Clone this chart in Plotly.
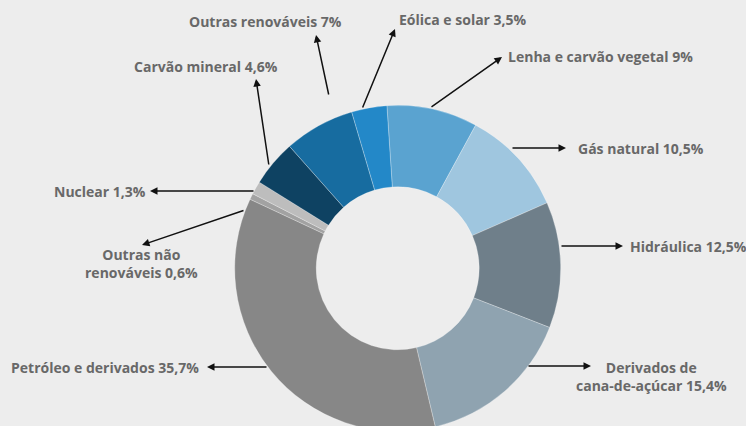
import plotly.graph_objects as go

# ---- data ----
sources = ["Lenha e carvão vegetal", "Gás natural", "Hidráulica",
           "Derivados de cana-de-açúcar", "Petróleo e derivados",
           "Outras não renováveis", "Nuclear", "Carvão mineral",
           "Outras renováveis", "Eólica e solar"]
shares = [9.0, 10.5, 12.5, 15.4, 35.7, 0.6, 1.3, 4.6, 7.0, 3.5]
label_texts = ["Lenha e carvão vegetal 9%", "Gás natural 10,5%", "Hidráulica 12,5%",
               "Derivados de<br>cana-de-açúcar 15,4%", "Petróleo e derivados 35,7%",
               "Outras não<br>renováveis 0,6%", "Nuclear 1,3%", "Carvão mineral 4,6%",
               "Outras renováveis 7%", "Eólica e solar 3,5%"]
colors = ["#5aa3d0", "#9fc6df", "#6f7f8a", "#8fa3b0", "#878787",
          "#a2a2a2", "#bdbdbd", "#0e4262", "#176ca0", "#2388c8"]

# ---- layout (pixels) ----
W, H = 746, 432
# text centre (x, y), arrow head (x, y), arrow tail (x, y)
label_layout = [
    ((600, 56), (502, 57), (430, 108)),
    ((641, 148), (566, 148), (511, 148)),
    ((688, 246), (623, 246), (560, 246)),
    ((651, 376), (591, 366), (527, 366)),
    ((105, 367), (207, 367), (268, 367)),
    ((141, 263), (142, 245), (245, 210)),
    ((100, 191), (150, 191), (255, 191)),
    ((206, 67), (256, 79), (269, 166)),
    ((265, 21), (316, 35), (329, 96)),
    ((463, 20), (395, 29), (362, 109)),
]

cx, cy, R = 397.7, 268.3, 163.0

def px(x):
    return x / W

def py(y):
    return 1 - y / H

fig = go.Figure(go.Pie(
    labels=sources, values=shares, sort=False, direction="clockwise",
    rotation=-3.8, hole=0.5, textinfo="none", hoverinfo="label+percent",
    marker=dict(colors=colors, line=dict(color="rgba(255,255,255,0.45)", width=0.6)),
    domain=dict(x=[px(cx - R), px(cx + R)], y=[max(0, py(cy + R)), py(cy - R)]),
    showlegend=False,
))

annotations = []
for txt, (tpos, head, tail) in zip(label_texts, label_layout):
    annotations.append(dict(
        x=px(head[0]), y=py(head[1]), xref="paper", yref="paper",
        ax=tail[0] - head[0], ay=tail[1] - head[1], axref="pixel", ayref="pixel",
        text="", showarrow=True, arrowhead=2, arrowsize=1, arrowwidth=1.5,
        arrowcolor="#111111",
    ))
    annotations.append(dict(
        x=px(tpos[0]), y=py(tpos[1]), xref="paper", yref="paper",
        text="<b>" + txt + "</b>", showarrow=False, xanchor="center", yanchor="middle",
        align="center", font=dict(family="Open Sans", size=14, color="#686868"),
    ))

fig.update_layout(
    width=W, height=H, margin=dict(l=0, r=0, t=0, b=0),
    paper_bgcolor="#ededed", plot_bgcolor="#ededed",
    annotations=annotations,
)

fig.write_html("out.html",
               post_script="document.documentElement.style.overflow='hidden';document.body.style.overflow='hidden';")
